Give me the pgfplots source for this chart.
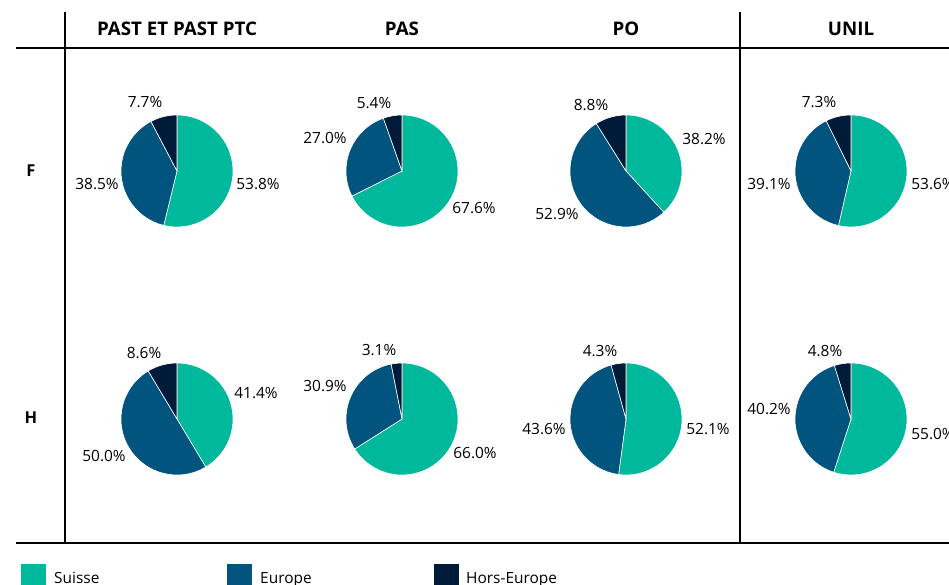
\documentclass[border=0pt]{standalone}
\usepackage{pgfplots}
\usepackage{pgfplotstable}
\pgfplotsset{compat=1.18}
\usepackage{fontspec}
\setmainfont{Open Sans}

\definecolor{suisse}{HTML}{00B89C}
\definecolor{europe}{HTML}{00547E}
\definecolor{horseur}{HTML}{001B3A}

% one row per pie: centre, shares in % (Suisse, Europe, Hors-Europe), label positions
\pgfplotstableread{
cx  cy  s    e    h   sx  sy  ex  ey  hx  hy
177 171 53.8 38.5 7.7 258 184 97  184 145 102
402 171 67.6 27.0 5.4 474 208 325 138 374 103
626 171 38.2 52.9 8.8 704 139 557 214 591 105
851 171 53.6 39.1 7.3 933 184 769 184 819 102
177 419 41.4 50.0 8.6 256 393 104 456 144 353
402 419 66.0 30.9 3.1 475 453 325 386 379 350
626 419 52.1 43.6 4.3 708 429 544 429 600 351
851 419 55.0 40.2 4.8 933 434 769 409 825 351
}\pies

\newcommand\labfont{\fontsize{15.5}{18}\selectfont}
\newcommand\headfont{\bfseries\fontsize{18.8}{22}\selectfont}
\newcommand\rowfont{\bfseries\fontsize{16.5}{20}\selectfont}

\begin{document}
\begin{tikzpicture}
\path[use as bounding box] (0,0) rectangle (949bp,585bp);
\clip (0,0) rectangle (949bp,585bp);
\begin{axis}[
    at={(0,0)}, anchor=south west,
    scale only axis, width=949bp, height=585bp,
    xmin=0, xmax=949, ymin=0, ymax=585,
    y dir=reverse,
    hide axis, clip=false
]
% grid lines
\draw[line width=1.8bp] (axis cs:16,48) -- (axis cs:949,48);
\draw[line width=1.8bp] (axis cs:16,543) -- (axis cs:949,543);
\draw[line width=1.8bp] (axis cs:65,12) -- (axis cs:65,543);
\draw[line width=1.8bp] (axis cs:740,12) -- (axis cs:740,543);
% headers
\node[font=\headfont] at (axis cs:177,28.5) {PAST ET PAST PTC};
\node[font=\headfont] at (axis cs:402,28.5) {PAS};
\node[font=\headfont] at (axis cs:626,28.5) {PO};
\node[font=\headfont] at (axis cs:851,28.5) {UNIL};
\node[font=\rowfont] at (axis cs:31,171) {F};
\node[font=\rowfont] at (axis cs:31,418) {H};
% pies
\pgfplotsextra{
  \pgfplotstablegetrowsof{\pies}
  \pgfmathtruncatemacro{\last}{\pgfplotsretval-1}
  \foreach \r in {0,...,\last}{
    \pgfplotstablegetelem{\r}{cx}\of{\pies}\let\cx\pgfplotsretval
    \pgfplotstablegetelem{\r}{cy}\of{\pies}\let\cy\pgfplotsretval
    \pgfplotstablegetelem{\r}{s}\of{\pies}\let\vs\pgfplotsretval
    \pgfplotstablegetelem{\r}{e}\of{\pies}\let\ve\pgfplotsretval
    \pgfplotstablegetelem{\r}{h}\of{\pies}\let\vh\pgfplotsretval
    \pgfplotstablegetelem{\r}{sx}\of{\pies}\let\sx\pgfplotsretval
    \pgfplotstablegetelem{\r}{sy}\of{\pies}\let\sy\pgfplotsretval
    \pgfplotstablegetelem{\r}{ex}\of{\pies}\let\ex\pgfplotsretval
    \pgfplotstablegetelem{\r}{ey}\of{\pies}\let\ey\pgfplotsretval
    \pgfplotstablegetelem{\r}{hx}\of{\pies}\let\hx\pgfplotsretval
    \pgfplotstablegetelem{\r}{hy}\of{\pies}\let\hy\pgfplotsretval
    \pgfmathsetmacro{\aa}{90-3.6*\vs}
    \pgfmathsetmacro{\ab}{90-3.6*(\vs+\ve)}
    \fill[suisse, draw=white, line width=0.6bp] (axis cs:\cx,\cy) -- ++(90:56bp)
      arc[start angle=90, end angle=\aa, radius=56bp] -- cycle;
    \fill[europe, draw=white, line width=0.6bp] (axis cs:\cx,\cy) -- ++(\aa:56bp)
      arc[start angle=\aa, end angle=\ab, radius=56bp] -- cycle;
    \fill[horseur, draw=white, line width=0.6bp] (axis cs:\cx,\cy) -- ++(\ab:56bp)
      arc[start angle=\ab, end angle=-270, radius=56bp] -- cycle;
    \node[font=\labfont] at (axis cs:\sx,\sy) {\vs\%};
    \node[font=\labfont] at (axis cs:\ex,\ey) {\ve\%};
    \node[font=\labfont] at (axis cs:\hx,\hy) {\vh\%};
  }
}
% legend
\fill[suisse] (axis cs:21,564) rectangle (axis cs:46,592);
\fill[europe] (axis cs:227,564) rectangle (axis cs:252,592);
\fill[horseur] (axis cs:434,564) rectangle (axis cs:459,592);
\node[font=\labfont, anchor=base west, inner sep=0pt] at (axis cs:54,583) {Suisse};
\node[font=\labfont, anchor=base west, inner sep=0pt] at (axis cs:260,583) {Europe};
\node[font=\labfont, anchor=base west, inner sep=0pt] at (axis cs:466,583) {Hors-Europe};
\end{axis}
\end{tikzpicture}
\end{document}
